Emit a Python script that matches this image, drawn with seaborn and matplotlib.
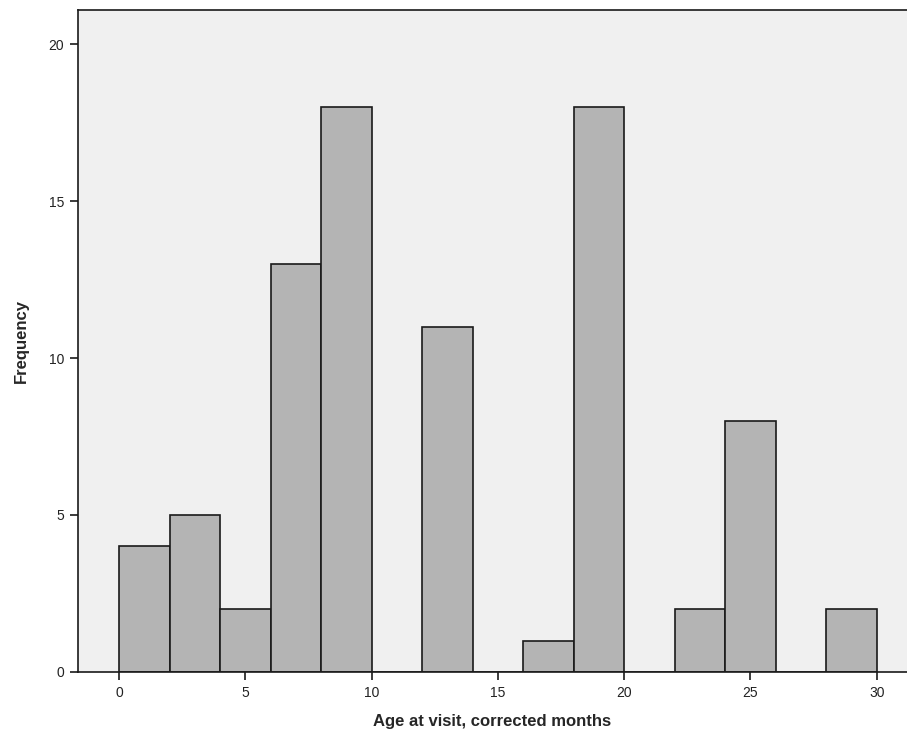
import matplotlib

matplotlib.use("Agg")
import matplotlib.pyplot as plt
import numpy as np
import seaborn as sns

# histogram bins (2-month width) and their frequencies
bin_edges = [0, 2, 4, 6, 8, 10, 12, 14, 16, 18, 20, 22, 24, 26, 28, 30]
counts = [4, 5, 2, 13, 18, 0, 11, 0, 1, 18, 0, 2, 8, 0, 2]
x_ticks = [0, 5, 10, 15, 20, 25, 30]
y_ticks = [0, 5, 10, 15, 20]

sns.set_style("ticks")
plt.rcParams["font.family"] = ["Liberation Sans", "DejaVu Sans"]

centers = (np.array(bin_edges[:-1]) + np.array(bin_edges[1:])) / 2

fig = plt.figure(figsize=(9.07, 7.4), dpi=100)
ax = fig.add_axes([0.086, 0.092, 0.914, 0.895])
ax.set_facecolor("#f0f0f0")

sns.histplot(x=centers, weights=counts, bins=bin_edges, color="#b4b4b4",
             edgecolor="#1a1a1a", linewidth=1.2, alpha=1, ax=ax)

ax.set_xlim(-1.625, 31.2)
ax.set_ylim(0, 21.1)
ax.set_xticks(x_ticks)
ax.set_yticks(y_ticks)
ax.tick_params(axis="both", direction="out", length=6, width=1.2, pad=4,
               labelsize=10, color="#1a1a1a", labelcolor="#222222")
for side in ["left", "bottom", "top"]:
    ax.spines[side].set_linewidth(1.2)
    ax.spines[side].set_color("#1a1a1a")
ax.spines["top"].set_visible(True)
ax.spines["right"].set_visible(False)

ax.set_xlabel("Age at visit, corrected months", fontsize=12, fontweight="bold",
              labelpad=10)
ax.set_ylabel("Frequency", fontsize=12, fontweight="bold", labelpad=14)

fig.savefig("out.png", dpi=100)
